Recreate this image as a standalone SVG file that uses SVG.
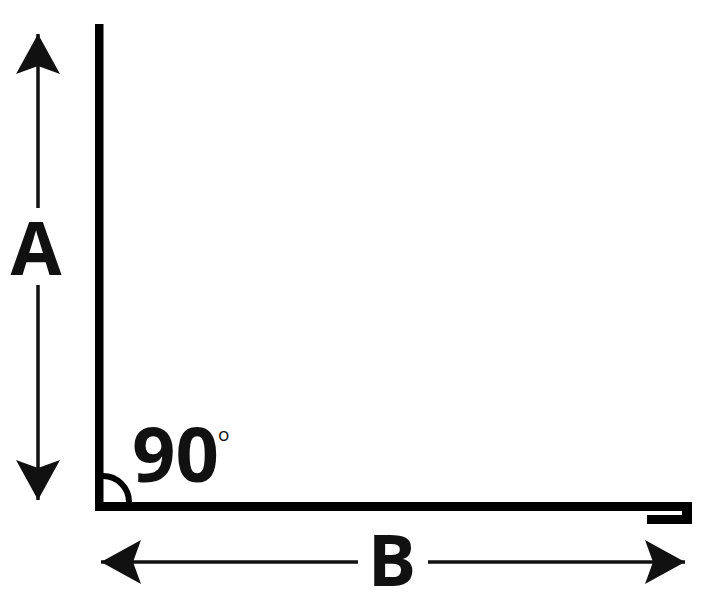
<svg xmlns="http://www.w3.org/2000/svg" width="716" height="606" viewBox="0 0 716 606">
  <style>
    .lbl { font-family: "Open Sans", "Liberation Sans", sans-serif; font-weight: bold; fill: #111; }
    .shaft { stroke: #111; stroke-width: 3.5; fill: none; }
    .bar { fill: #000; }
  </style>
  <defs>
    <marker id="ah" markerUnits="userSpaceOnUse" markerWidth="44" markerHeight="48" refX="40" refY="22" orient="auto-start-reverse" viewBox="0 0 44 44">
      <path d="M40,22 L0,0 L8,22 L0,44 Z" fill="#111"/>
    </marker>
  </defs>
  <rect width="716" height="606" fill="#fff"/>

  <g id="angle">
    <rect class="bar" x="95" y="24" width="8.5" height="487"/>
    <rect class="bar" x="95" y="502" width="597" height="9"/>
    <rect class="bar" x="682" y="502" width="10" height="22"/>
    <rect class="bar" x="647" y="515" width="45" height="9"/>
    <path d="M103,476 A26,26 0 0 1 129,502" fill="none" stroke="#000" stroke-width="6"/>
  </g>

  <g id="connectors">
    <line class="shaft" x1="38" y1="208" x2="38" y2="34" marker-end="url(#ah)"/>
    <line class="shaft" x1="38" y1="285" x2="38" y2="500" marker-end="url(#ah)"/>
    <line class="shaft" x1="358" y1="562" x2="101" y2="562" marker-end="url(#ah)"/>
    <line class="shaft" x1="428" y1="562" x2="685" y2="562" marker-end="url(#ah)"/>
  </g>

  <g id="label-A"><text class="lbl" x="36" y="275" font-size="74" text-anchor="middle">A</text></g>
  <g id="label-B"><text class="lbl" x="392" y="586" font-size="72" text-anchor="middle">B</text></g>
  <g id="label-90">
    <text class="lbl" x="132" y="482" font-size="76">90</text>
    <text x="218" y="441" font-family="Open Sans, Liberation Sans, sans-serif" font-size="19" fill="#111">o</text>
  </g>
</svg>
